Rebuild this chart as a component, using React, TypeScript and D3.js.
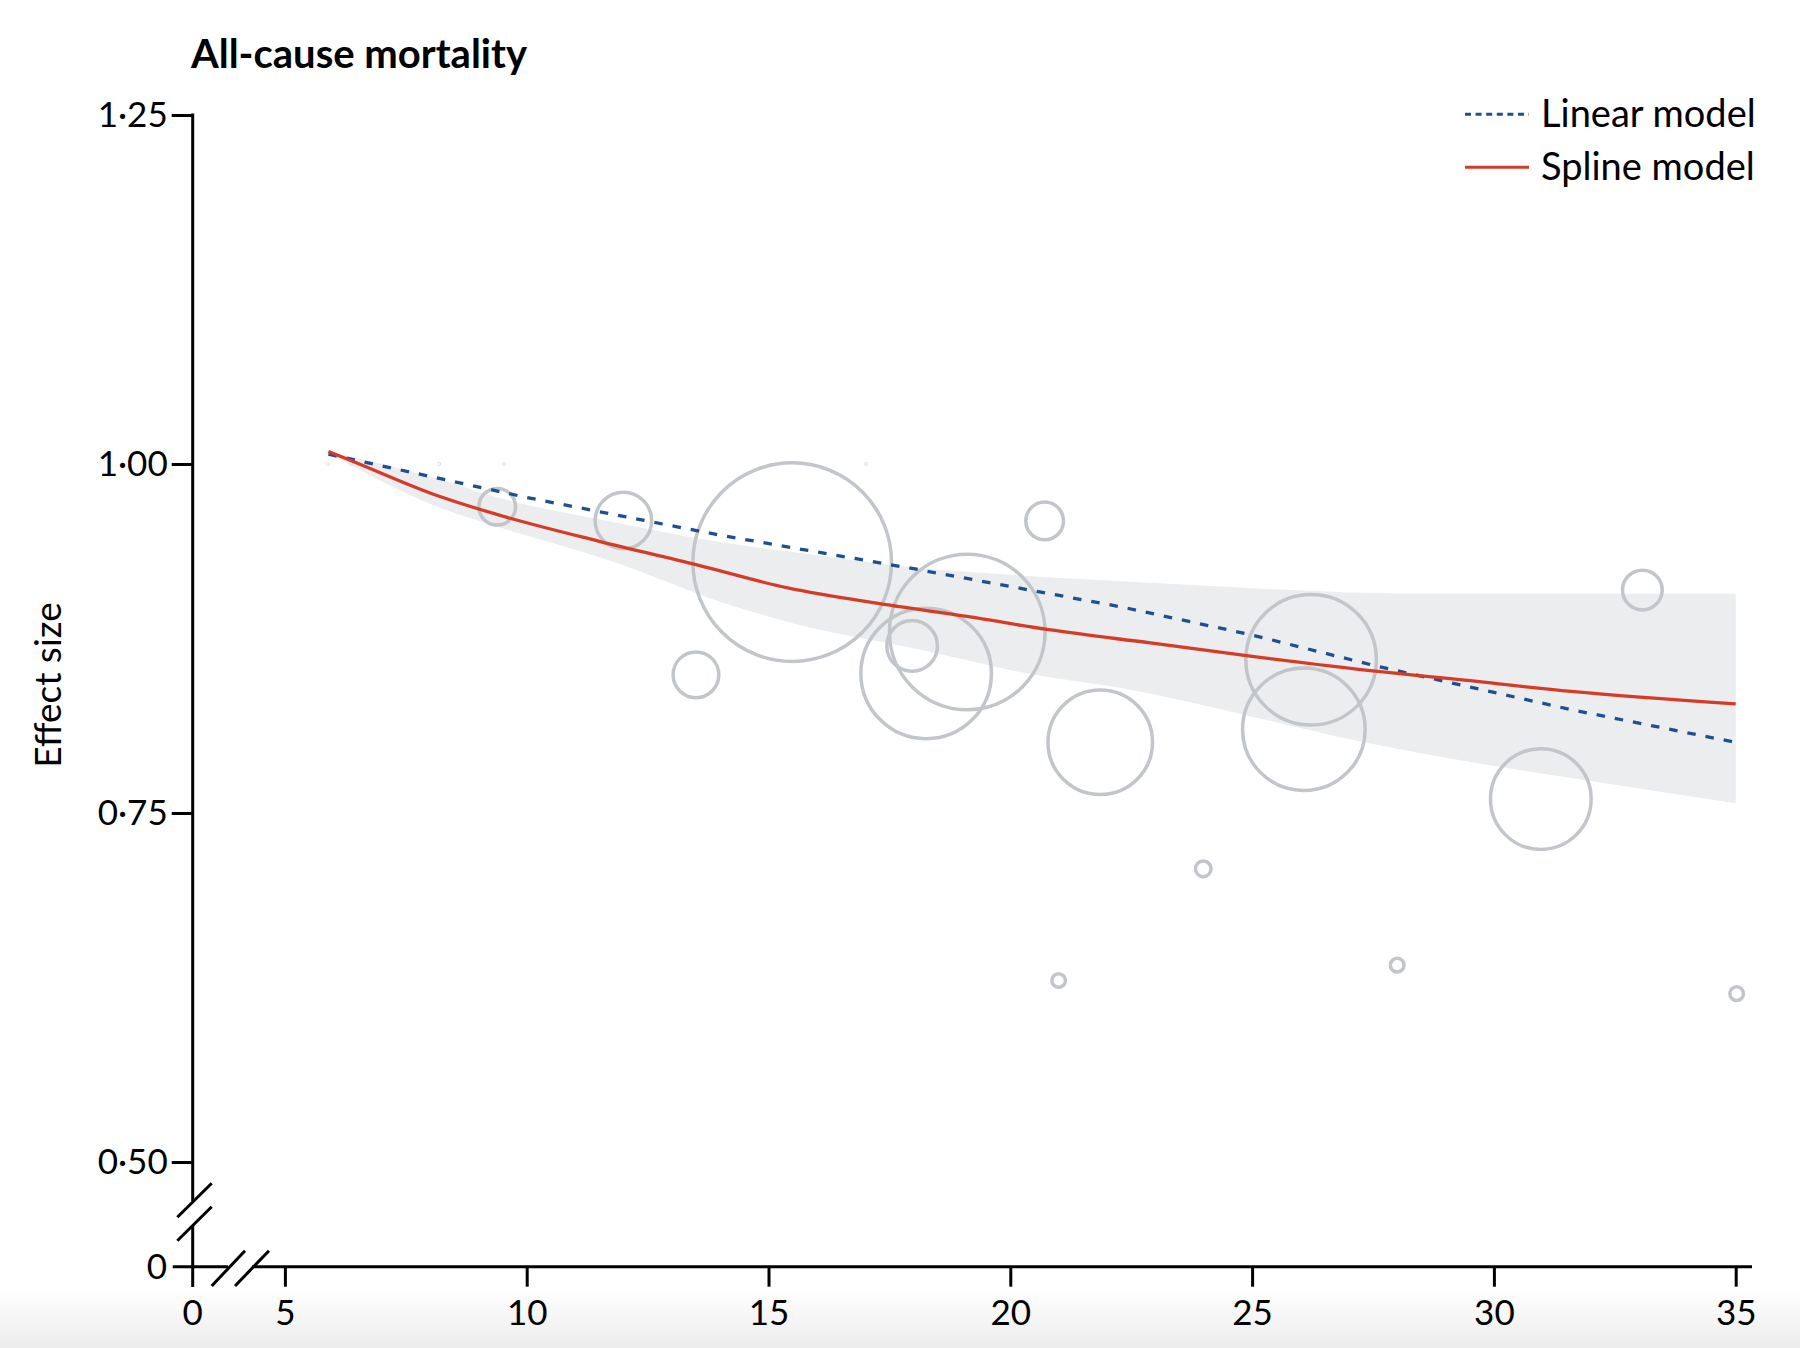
import { useEffect, useRef } from "react";
import * as d3 from "d3";

// axis ticks
const xTicks = [5, 10, 15, 20, 25, 30, 35];
const yTicks = [0.5, 0.75, 1.0, 1.25];

// individual studies (bubble = study weight)
const studyX = [9.39, 12.0, 13.5, 15.49, 17.97, 18.26, 19.11, 20.71, 21.0, 21.86, 23.99, 26.07, 26.22, 28.0, 30.97, 33.07, 35.02];
const studyEffect = [0.9694, 0.9595, 0.849, 0.9297, 0.8697, 0.85, 0.8797, 0.9592, 0.63, 0.8007, 0.71, 0.81, 0.8598, 0.641, 0.76, 0.9097, 0.6206];
const studyWeight = [3.4, 8.1, 5.3, 100, 6.5, 43.2, 61.4, 3.6, 0.47, 27.7, 0.62, 38.1, 43.2, 0.47, 25.7, 4.0, 0.47];

// near-zero-weight studies at 1.00
const faintX = [5.885, 6.37, 8.19, 9.53, 17.02];
const faintEffect = [1.0, 1.0, 1.0, 1.0, 1.0];

// linear model
const linearX = [5.9, 10, 14, 18, 22.3, 25, 27.6, 31.6, 35];
const linearY = [1.007, 0.976, 0.949, 0.925, 0.8976, 0.8775, 0.855, 0.824, 0.8006];

// spline model
const splineX = [5.9, 6.4, 8.1, 9.4, 11.5, 13.5, 15.4, 17.3, 19.1, 20.8, 22.9, 25, 27.6, 29.1, 31.6, 35];
const splineY = [1.009, 1.002, 0.978, 0.9637, 0.9446, 0.9279, 0.9112, 0.8999, 0.8908, 0.8813, 0.8718, 0.8622, 0.8514, 0.8462, 0.8371, 0.8281];

// spline 95% CI
const bandX = [5.9, 8.1, 9.4, 11.7, 14.2, 15.5, 18, 20.5, 22.3, 25, 27, 29.1, 31.6, 35];
const bandUpper = [1.009, 0.99, 0.976, 0.959, 0.943, 0.937, 0.926, 0.9195, 0.916, 0.911, 0.908, 0.907, 0.907, 0.907];
const bandLower = [1.008, 0.97, 0.955, 0.931, 0.899, 0.886, 0.868, 0.849, 0.8395, 0.819, 0.803, 0.789, 0.775, 0.757];

const W = 1800;
const H = 1348;
const FONT = "Lato, 'Noto Sans', sans-serif";
const BLUE = "#1d4f91";
const RED = "#d63b27";

export default function App() {
  const svgRef = useRef<SVGSVGElement>(null);

  useEffect(() => {
    if (!svgRef.current) return;
    const svg = d3.select(svgRef.current);
    svg.selectAll("*").remove();

    const axisX = 192.7; // y axis position
    const axisY = 1266.7; // x axis position (value 0)

    const x = d3.scaleLinear().domain([5, 35]).range([284.9, 1735.7]);
    const y = d3.scaleLinear().domain([0.5, 1.25]).range([1162, 115]);
    const r = d3.scaleSqrt().domain([0, 100]).range([0, 99.3]);

    // page shade at the bottom
    const defs = svg.append("defs");
    const grad = defs
      .append("linearGradient")
      .attr("id", "shade")
      .attr("x1", 0)
      .attr("x2", 0)
      .attr("y1", 0)
      .attr("y2", 1);
    grad.append("stop").attr("offset", "0%").attr("stop-color", "#ffffff");
    grad.append("stop").attr("offset", "100%").attr("stop-color", "#ececec");
    svg
      .append("rect")
      .attr("x", 0)
      .attr("y", 1288)
      .attr("width", W)
      .attr("height", H - 1288)
      .attr("fill", "url(#shade)");

    // CI band
    const bandData = bandX.map((v, i) => ({ x: v, lo: bandLower[i], hi: bandUpper[i] }));
    svg
      .append("path")
      .datum(bandData)
      .attr("fill", "#ebedef")
      .attr(
        "d",
        d3
          .area<{ x: number; lo: number; hi: number }>()
          .x((d) => x(d.x))
          .y0((d) => y(d.lo))
          .y1((d) => y(d.hi))
          .curve(d3.curveMonotoneX),
      );

    // bubbles
    svg
      .append("g")
      .selectAll("circle")
      .data(studyX.map((v, i) => ({ x: v, e: studyEffect[i], w: studyWeight[i] })))
      .join("circle")
      .attr("cx", (d) => x(d.x))
      .attr("cy", (d) => y(d.e))
      .attr("r", (d) => r(d.w))
      .attr("fill", "none")
      .attr("stroke", "#c2c5c9")
      .attr("stroke-width", 3.5);

    svg
      .append("g")
      .selectAll("circle")
      .data(faintX.map((v, i) => ({ x: v, e: faintEffect[i] })))
      .join("circle")
      .attr("cx", (d) => x(d.x))
      .attr("cy", (d) => y(d.e))
      .attr("r", 1.6)
      .attr("fill", "none")
      .attr("stroke", "#dfe1e4")
      .attr("stroke-width", 1);

    // model lines
    const line = d3
      .line<[number, number]>()
      .x((d) => x(d[0]))
      .y((d) => y(d[1]));

    svg
      .append("path")
      .datum(linearX.map((v, i) => [v, linearY[i]] as [number, number]))
      .attr("d", line)
      .attr("fill", "none")
      .attr("stroke", BLUE)
      .attr("stroke-width", 3.3)
      .attr("stroke-dasharray", "8.5,10");

    svg
      .append("path")
      .datum(splineX.map((v, i) => [v, splineY[i]] as [number, number]))
      .attr("d", line.curve(d3.curveMonotoneX))
      .attr("fill", "none")
      .attr("stroke", RED)
      .attr("stroke-width", 3.3);

    // y axis
    const fmt = (d: d3.NumberValue) => d3.format(".2f")(d as number).replace(".", "\u00b7");
    const yAxis = svg
      .append("g")
      .attr("transform", `translate(${axisX},0)`)
      .call(d3.axisLeft(y).tickValues(yTicks).tickFormat(fmt).tickSize(21).tickPadding(4));
    yAxis.select(".domain").remove();

    // x axis
    const xAxis = svg
      .append("g")
      .attr("transform", `translate(0,${axisY})`)
      .call(d3.axisBottom(x).tickValues(xTicks).tickFormat(d3.format("d")).tickSize(20).tickPadding(13));
    xAxis.select(".domain").remove();

    [yAxis, xAxis].forEach((g) => {
      g.selectAll("line").attr("stroke", "#000").attr("stroke-width", 3);
      g.selectAll("text")
        .attr("fill", "#000")
        .style("font-family", FONT)
        .style("font-size", "35px");
    });

    const axisLines = svg
      .append("g")
      .attr("stroke", "#000")
      .attr("stroke-width", 3)
      .attr("fill", "none");
    // broken y axis
    axisLines.append("line").attr("x1", axisX).attr("x2", axisX).attr("y1", y(1.25) - 1.5).attr("y2", 1201);
    axisLines.append("line").attr("x1", axisX).attr("x2", axisX).attr("y1", 1226).attr("y2", 1287);
    // broken x axis
    axisLines.append("line").attr("x1", 172.7).attr("x2", 228).attr("y1", axisY).attr("y2", axisY);
    axisLines.append("line").attr("x1", 252).attr("x2", 1752).attr("y1", axisY).attr("y2", axisY);
    // break marks
    [
      [177.3, 1217.3, 211.7, 1183.3],
      [177.3, 1240.7, 211.7, 1206.7],
      [211.7, 1286, 245, 1250.7],
      [235, 1286, 269, 1250.7],
    ].forEach(([x1, y1, x2, y2]) => {
      axisLines.append("line").attr("x1", x1).attr("y1", y1).attr("x2", x2).attr("y2", y2);
    });

    // zero labels at the break
    svg
      .append("text")
      .attr("x", 167)
      .attr("y", axisY)
      .attr("dy", "0.35em")
      .attr("text-anchor", "end")
      .style("font-family", FONT)
      .style("font-size", "35px")
      .text("0");
    svg
      .append("text")
      .attr("x", axisX)
      .attr("y", 1325)
      .attr("text-anchor", "middle")
      .style("font-family", FONT)
      .style("font-size", "35px")
      .text("0");

    // title
    svg
      .append("text")
      .attr("x", 191)
      .attr("y", 68)
      .style("font-family", FONT)
      .style("font-size", "40px")
      .style("font-weight", 700)
      .text("All-cause mortality");

    // y axis label
    svg
      .append("text")
      .attr("transform", "translate(61,685) rotate(-90)")
      .attr("text-anchor", "middle")
      .style("font-family", FONT)
      .style("font-size", "37px")
      .text("Effect size");

    // legend
    const legend = svg.append("g");
    const items = [
      { label: "Linear model", color: BLUE, dash: "6,4.6", y: 114.3 },
      { label: "Spline model", color: RED, dash: null, y: 167.3 },
    ];
    items.forEach((it) => {
      legend
        .append("line")
        .attr("x1", 1465)
        .attr("x2", 1529)
        .attr("y1", it.y)
        .attr("y2", it.y)
        .attr("stroke", it.color)
        .attr("stroke-width", 3)
        .attr("stroke-dasharray", it.dash);
      legend
        .append("text")
        .attr("x", 1541)
        .attr("y", it.y + 12.5)
        .style("font-family", FONT)
        .style("font-size", "38px")
        .text(it.label);
    });
  }, []);

  return (
    <svg
      ref={svgRef}
      width={W}
      height={H}
      style={{ position: "absolute", left: 0, top: 0, background: "#fff" }}
    />
  );
}
